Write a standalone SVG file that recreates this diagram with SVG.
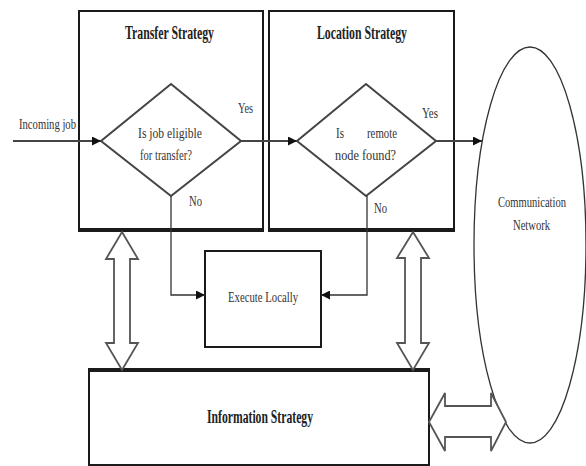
<svg xmlns="http://www.w3.org/2000/svg" width="586" height="466" viewBox="0 0 586 466">
<defs>
<style>
.box{fill:#fff;stroke:#1a1a1a;stroke-width:2}
.edge{stroke:#1a1a1a;stroke-width:4}
.dia{fill:#fff;stroke:#444;stroke-width:2}
.ln{fill:none;stroke:#444;stroke-width:2}
.thin{fill:none;stroke:#333;stroke-width:1.3}
.dbl{fill:#fff;stroke:#555;stroke-width:1.8;stroke-linejoin:miter}
.t{font-family:"Liberation Serif","Times New Roman",serif;font-size:15px;fill:#333}
.b{font-family:"Liberation Serif","Times New Roman",serif;font-size:18px;font-weight:bold;fill:#222}
</style>
<marker id="ah" viewBox="0 0 10 10" refX="10" refY="5" markerWidth="9" markerHeight="9" markerUnits="userSpaceOnUse" orient="auto">
<path d="M0,0 L10,5 L0,10 z" fill="#111"/>
</marker>
</defs>
<rect width="586" height="466" fill="#fff"/>

<g id="transfer-strategy">
<rect class="box" x="79" y="11" width="184" height="219"/>
<line class="edge" x1="78" y1="230" x2="264" y2="230"/>
<text class="b" x="125" y="39" textLength="89" lengthAdjust="spacingAndGlyphs">Transfer Strategy</text>
</g>

<g id="location-strategy">
<rect class="box" x="269" y="11" width="185" height="219"/>
<line class="edge" x1="268" y1="230" x2="455" y2="230"/>
<text class="b" x="317" y="39" textLength="90" lengthAdjust="spacingAndGlyphs">Location Strategy</text>
</g>

<g id="eligible-decision">
<polygon class="dia" points="171,84 241,141 171,196 101,141"/>
<text class="t" x="138" y="138" textLength="64" lengthAdjust="spacingAndGlyphs">Is job eligible</text>
<text class="t" x="140" y="160" textLength="52" lengthAdjust="spacingAndGlyphs">for transfer?</text>
</g>

<g id="remote-decision">
<polygon class="dia" points="366,84 436,141 366,196 297,141"/>
<text class="t" x="336" y="138" textLength="8" lengthAdjust="spacingAndGlyphs">Is</text>
<text class="t" x="367" y="138" textLength="30" lengthAdjust="spacingAndGlyphs">remote</text>
<text class="t" x="335" y="160" textLength="61" lengthAdjust="spacingAndGlyphs">node found?</text>
</g>

<g id="execute-locally">
<rect class="box" x="205" y="251" width="116" height="96"/>
<text class="t" x="228" y="302" textLength="70" lengthAdjust="spacingAndGlyphs">Execute Locally</text>
</g>

<g id="information-strategy">
<rect class="box" x="89" y="370" width="340" height="95"/>
<line class="edge" x1="88" y1="370" x2="430" y2="370"/>
<text class="b" x="207" y="423" textLength="106" lengthAdjust="spacingAndGlyphs">Information Strategy</text>
</g>

<g id="communication-network">
<ellipse fill="none" stroke="#333" stroke-width="1.3" cx="530" cy="245" rx="56" ry="198"/>
<text class="t" x="498" y="207" textLength="68" lengthAdjust="spacingAndGlyphs">Communication</text>
<text class="t" x="513" y="230" textLength="37" lengthAdjust="spacingAndGlyphs">Network</text>
</g>

<g id="connectors">
<line class="ln" x1="13" y1="141" x2="101" y2="141" marker-end="url(#ah)"/>
<text class="t" x="19" y="129" textLength="57" lengthAdjust="spacingAndGlyphs">Incoming job</text>
<line class="ln" x1="241" y1="141" x2="297" y2="141" marker-end="url(#ah)"/>
<text class="t" x="238" y="113" textLength="15" lengthAdjust="spacingAndGlyphs">Yes</text>
<line class="ln" x1="436" y1="141" x2="482" y2="141" marker-end="url(#ah)"/>
<text class="t" x="422" y="118" textLength="16" lengthAdjust="spacingAndGlyphs">Yes</text>
<polyline class="thin" points="171,196 171,295 205,295" marker-end="url(#ah)"/>
<text class="t" x="189" y="206" textLength="13" lengthAdjust="spacingAndGlyphs">No</text>
<polyline class="thin" points="367,196 367,295 321,295" marker-end="url(#ah)"/>
<text class="t" x="374" y="213" textLength="13" lengthAdjust="spacingAndGlyphs">No</text>
<polygon class="dbl" points="122,232 138,259 130,259 130,343 138,343 122,370 106,343 114,343 114,259 106,259"/>
<polygon class="dbl" points="413,232 429,258 421,258 421,343 429,343 413,370 397,343 405,343 405,258 397,258"/>
<polygon class="dbl" points="429,422 445,393 445,406 491,406 491,393 506,422 491,451 491,437 445,437 445,451"/>
</g>
</svg>
